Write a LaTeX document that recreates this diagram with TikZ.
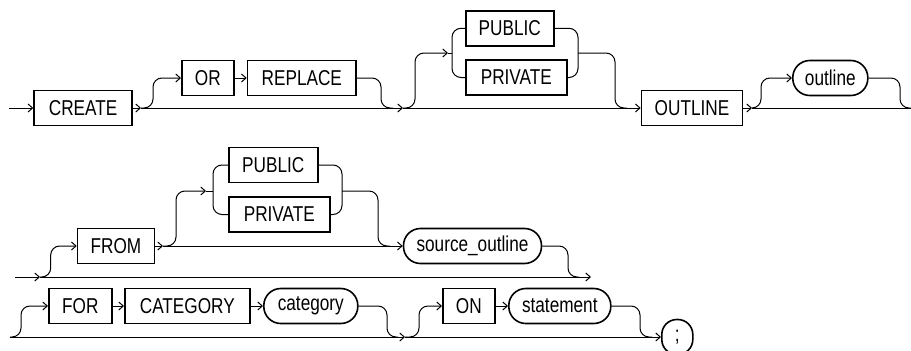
\documentclass[tikz,border=0pt]{standalone}
\usepackage{fontspec}
\setmainfont{Liberation Sans}[FakeStretch=0.80]
\usetikzlibrary{arrows.meta}
\tikzset{
  kw/.style={draw, line width=1.6pt, minimum height=35pt, inner sep=0pt, anchor=west, font=\fontsize{21.5}{25}\selectfont},
  var/.style={kw, rounded corners=17pt},
  rail/.style={line width=1pt},
  arr/.style={rail, -{Straight Barb[length=4.5pt,width=8pt]}},
  railcurve/.style={rail, rounded corners=9pt},
  railcurvearr/.style={arr, rounded corners=9pt},
}
\begin{document}
\begin{tikzpicture}[x=1pt,y=-1pt]
\useasboundingbox (0,0) rectangle (911,351);
% ---------- row 1 ----------
\coordinate (s1) at (9,108);
\node[kw, minimum width=98pt] (create) at (33.3,108) {CREATE};
\coordinate (j1) at (141,108);
\coordinate (j2) at (403,108);
\node[kw, minimum width=52pt] (or) at (181,78) {OR};
\node[kw, minimum width=108.6pt] (replace) at (246.7,78) {REPLACE};
\coordinate (m1) at (393,108);
\node[kw, minimum width=88pt] (pub1) at (465,28.3) {PUBLIC};
\node[kw, minimum width=101pt] (priv1) at (465,77.5) {PRIVATE};
\coordinate (g1in) at (448,53);
\coordinate (g1l) at (452,53);
\coordinate (g1r) at (578,53);
\coordinate (m2) at (627,108);
\node[kw, minimum width=101pt] (outkw) at (640.7,108) {OUTLINE};
\coordinate (j3) at (752,108);
\node[var, minimum width=75pt] (outline) at (792,78) {outline};
\coordinate (e1) at (911,108);

\draw[arr] (s1) -- (create.west);
\draw[arr] (create.east) -- (j1);
\draw[arr] (j1) -- (j2);
\draw[railcurvearr] (j1) -| ([xshift=-28pt]or.west) -- (or.west);
\draw[arr] (or.east) -- (replace.west);
\draw[railcurve] (replace.east) -| ([xshift=-12pt]m1) -- (m1);
\draw[railcurvearr] (j2) -| ([xshift=-33pt]g1in) -- (g1in);
\draw[rail] (g1in) -- (g1l);
\draw[railcurve] (pub1.west) -| (g1l) |- (priv1.west);
\draw[railcurve] (pub1.east) -| (g1r) |- (priv1.east);
\draw[railcurve] (g1r) -| ([xshift=-12pt]m2) -- (m2);
\draw[arr] (j2) -- (outkw.west);
\draw[arr] (outkw.east) -- (j3);
\draw[railcurvearr] (j3) -| ([xshift=-31pt]outline.west) -- (outline.west);
\draw[rail] (j3) -- (e1);
\draw[railcurve] (outline.east) -| ([xshift=-11pt]e1) -- (e1);

% ---------- row 2 ----------
\coordinate (s2) at (15,277);
\coordinate (j4) at (40,277);
\coordinate (e2) at (591,277);
\node[kw, minimum width=77pt] (from) at (76.7,246) {FROM};
\coordinate (j5) at (163,246);
\node[kw, minimum width=89pt] (pub2) at (228,165) {PUBLIC};
\node[kw, minimum width=101pt] (priv2) at (228,214.5) {PRIVATE};
\coordinate (g2in) at (206,191);
\coordinate (g2l) at (213,191);
\coordinate (g2r) at (342,191);
\coordinate (m3) at (390,246);
\node[var, minimum width=138pt] (src) at (402.7,246) {source\_outline};
\coordinate (m4) at (579,277);

\draw[arr] (s2) -- (j4);
\draw[arr] (j4) -- (e2);
\draw[railcurvearr] (j4) -| ([xshift=-26pt]from.west) -- (from.west);
\draw[arr] (from.east) -- (j5);
\draw[arr] (j5) -- (src.west);
\draw[railcurvearr] (j5) -| ([xshift=-30pt]g2in) -- (g2in);
\draw[rail] (g2in) -- (g2l);
\draw[railcurve] (pub2.west) -| (g2l) |- (priv2.west);
\draw[railcurve] (pub2.east) -| (g2r) |- (priv2.east);
\draw[railcurve] (g2r) -| ([xshift=-12pt]m3) -- (m3);
\draw[railcurve] (src.east) -| ([xshift=-11pt]m4) -- (m4);

% ---------- row 3 ----------
\coordinate (s3) at (10,337);
\node[kw, minimum width=63pt] (for) at (48,306) {FOR};
\node[kw, minimum width=125pt] (cat) at (124,306) {CATEGORY};
\node[var, minimum width=94pt] (category) at (263,306) {category};
\coordinate (m5) at (398,337);
\coordinate (j6) at (405,337);
\node[kw, minimum width=52pt] (on) at (442,306) {ON};
\node[var, minimum width=102pt] (stmt) at (508,306) {statement};
\coordinate (m6) at (652,337);
\node[kw, rounded corners=15pt, minimum width=31pt] (semi) at (661,337) {;};

\draw[arr] (s3) -- (j6);
\draw[railcurvearr] (s3) -| ([xshift=-27pt]for.west) -- (for.west);
\draw[arr] (for.east) -- (cat.west);
\draw[arr] (cat.east) -- (category.west);
\draw[railcurve] (category.east) -| ([xshift=-11pt]m5) -- (m5);
\draw[railcurvearr] (j6) -| ([xshift=-23pt]on.west) -- (on.west);
\draw[arr] (on.east) -- (stmt.west);
\draw[arr] (j6) -- (semi.west);
\draw[railcurve] (stmt.east) -| ([xshift=-12pt]m6) -- (m6);
\end{tikzpicture}
\end{document}
